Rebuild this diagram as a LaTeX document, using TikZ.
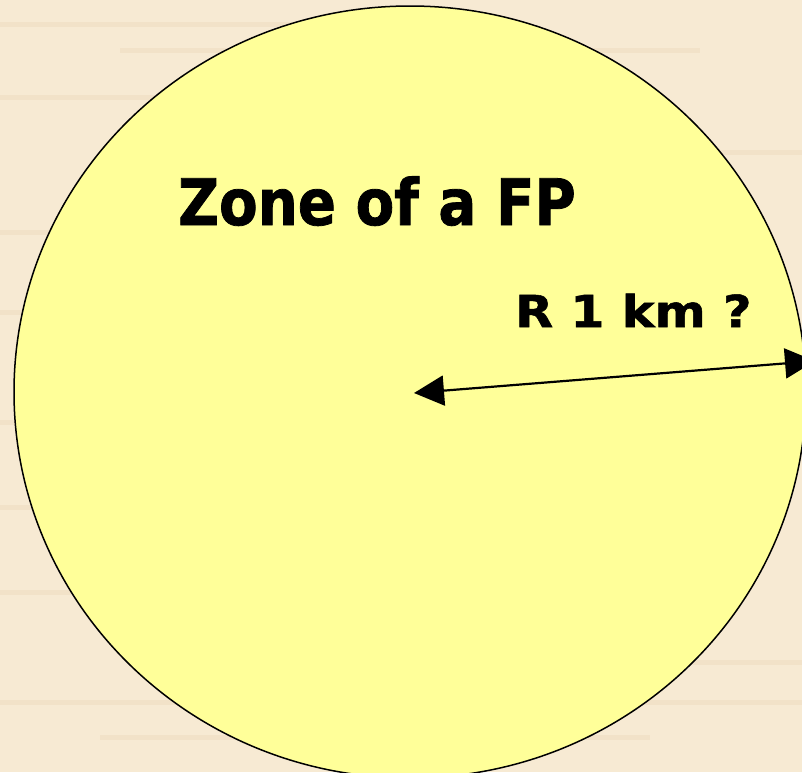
\documentclass[tikz,border=0pt]{standalone}
\usepackage{fontspec}
\setmainfont{DejaVu Sans}
\newfontfamily\zonefont{DejaVu Sans}[FakeStretch=0.88, BoldFeatures={FakeBold=1.2}]
\newfontfamily\radfont{DejaVu Sans}[FakeStretch=1.12, BoldFeatures={FakeBold=1.2}]
\definecolor{parchment}{HTML}{F7EAD3}
\definecolor{streak}{HTML}{F1E0C4}
\definecolor{zone}{HTML}{FFFF99}
\usetikzlibrary{arrows.meta}

\begin{document}
\begin{tikzpicture}[x=1pt, y=-1pt,
  title/.style={font=\zonefont\fontsize{64}{64}\selectfont\bfseries, anchor=base west, inner sep=0pt},
  label/.style={font=\radfont\fontsize{44}{44}\selectfont\bfseries, anchor=base west, inner sep=0pt},
  radius/.style={line width=2.2pt, {Triangle[length=30pt,width=30pt]}-{Triangle[length=30pt,width=30pt]}},
]
\useasboundingbox (0,0) rectangle (802,772);
\clip (0,0) rectangle (802,772);
% background
\fill[parchment] (0,0) rectangle (802,772);
\foreach \y/\a/\b in {22/0/300,48/120/700,95/0/200,150/400/802,230/0/120,310/0/90,420/0/60,505/0/100,590/0/160,660/500/802,700/0/802,735/100/650}
  \fill[streak, opacity=0.7] (\a,\y) rectangle (\b,\y+5);

% the zone
\draw[fill=zone, line width=1.5pt] (410,392) ellipse [x radius=396, y radius=386];

\node[title] (zonetext) at (178,225) {Zone of a FP};
\node[label] (rtext) at (515,327) {R 1 km ?};

\coordinate (centre) at (414,393);
\coordinate (rim) at (815,361);
\draw[radius] (rim) -- (centre);
\end{tikzpicture}
\end{document}
